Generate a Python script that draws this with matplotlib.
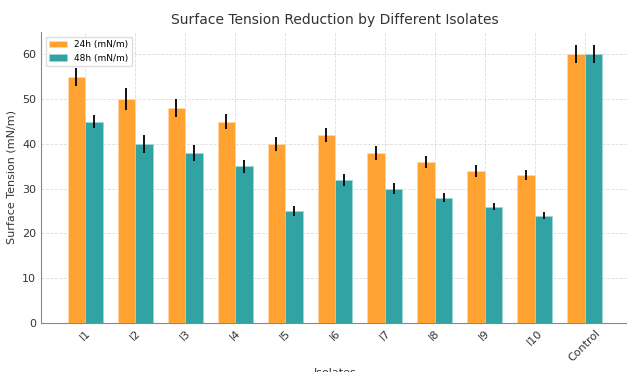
import numpy as np
import matplotlib.pyplot as plt

isolates = ['I1', 'I2', 'I3', 'I4', 'I5', 'I6', 'I7', 'I8', 'I9', 'I10', 'Control']
tension_24h = [55, 50, 48, 45, 40, 42, 38, 36, 34, 33, 60]
tension_48h = [45, 40, 38, 35, 25, 32, 30, 28, 26, 24, 60]
err_24h = [2.0, 2.5, 2.0, 1.7, 1.5, 1.6, 1.6, 1.3, 1.3, 1.1, 2.0]
err_48h = [1.5, 2.0, 1.8, 1.5, 1.2, 1.3, 1.2, 1.0, 0.8, 0.7, 2.0]

x = np.arange(len(isolates))
width = 0.35

fig = plt.figure(figsize=(6.27, 3.72), dpi=100)
ax = fig.add_axes([41 / 627, 49 / 372, 588 / 627, 291 / 372])

ax.bar(x - width / 2, tension_24h, width, yerr=err_24h, label='24h (mN/m)',
       color='#FFA232', edgecolor='#FFD9A8', linewidth=0.6,
       error_kw=dict(ecolor='black', elinewidth=1.3, capsize=0), zorder=3)
ax.bar(x + width / 2, tension_48h, width, yerr=err_48h, label='48h (mN/m)',
       color='#32A3A3', edgecolor='#9FD6D6', linewidth=0.6,
       error_kw=dict(ecolor='black', elinewidth=1.3, capsize=0), zorder=3)

ax.set_xlim(-0.885, 10.885)
ax.set_ylim(0, 65)
ax.set_xticks(x)
ax.set_xticklabels(isolates, rotation=45, fontsize=8, color='#333333')
ax.tick_params(axis='y', labelsize=8, labelcolor='#333333', length=0)
ax.tick_params(axis='x', direction='in', length=3, color='#444444')

ax.set_xlabel('Isolates', fontsize=8, color='#333333', labelpad=3)
ax.set_ylabel('Surface Tension (mN/m)', fontsize=8, color='#333333')
ax.set_title('Surface Tension Reduction by Different Isolates', fontsize=10, color='#333333', pad=6)

ax.grid(True, linestyle='--', color='#dddddd', linewidth=0.6, zorder=0)
for s in ['top', 'right']:
    ax.spines[s].set_visible(False)
for s in ['left', 'bottom']:
    ax.spines[s].set_color('#888888')

ax.legend(loc='upper left', fontsize=6.5, framealpha=1, edgecolor='#dddddd')

plt.savefig('out.png', dpi=100)
